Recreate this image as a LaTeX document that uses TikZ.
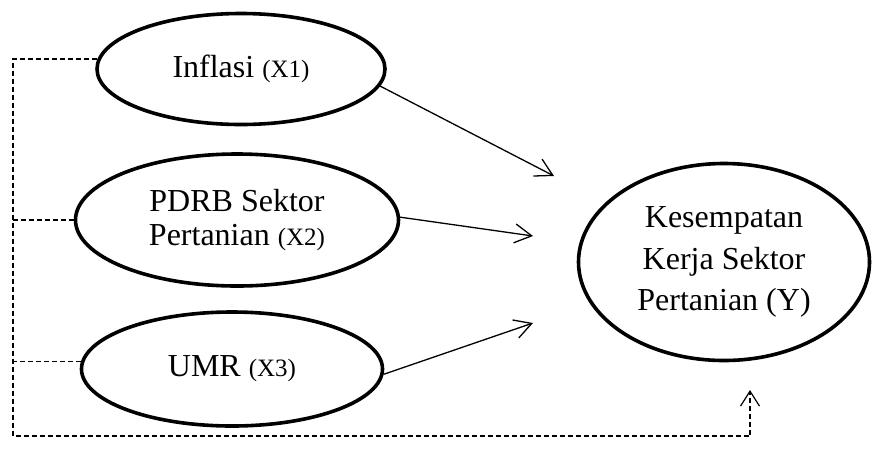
\documentclass[tikz,border=0pt]{standalone}
\usepackage{fontspec}
\setmainfont{Liberation Serif}
\usetikzlibrary{arrows.meta,positioning,shapes.geometric}
\tikzset{
  var/.style={draw,ellipse,line width=3.6pt,align=center,inner sep=0pt,
    font=\fontsize{32}{34}\selectfont},
  arr/.style={-{Straight Barb[length=17pt,width=19pt]},line width=1.3pt},
  link/.style={dash pattern=on 5pt off 3pt,line width=1.2pt}
}
\newcommand{\kode}[1]{{\fontsize{25}{30}\selectfont(#1)}}

\begin{document}
\begin{tikzpicture}[x=1pt,y=-1pt]
    \useasboundingbox (0,0) rectangle (885,448);
    \node[var,minimum width=288pt,minimum height=111pt] (infl) at (241,69) {Inflasi \kode{X1}};
    \node[var,minimum width=323pt,minimum height=132pt] (pdrb) at (237,220) {PDRB Sektor\\Pertanian \kode{X2}};
    \node[var,minimum width=301pt,minimum height=114pt] (umr) at (232,369) {UMR \kode{X3}};
    \node[var,minimum width=291pt,minimum height=197pt,
      font=\fontsize{32}{41.5}\selectfont] (kerja) at (724,262)
      {Kesempatan\\Kerja Sektor\\Pertanian (Y)};
    \coordinate (t1) at (554,176);
    \coordinate (t2) at (533,236);
    \coordinate (t3) at (533,323);
    \coordinate (lc) at (13,436);
    \coordinate (bc) at (750,436);
    \coordinate (t4) at (750,390);
    % pengaruh parsial
    \draw[arr] (infl.-7) -- (t1);
    \draw[arr] (pdrb.1) -- (t2);
    \draw[arr] (umr.-2) -- (t3);
    % pengaruh simultan
    \draw[link,-{Straight Barb[length=15pt,width=19pt]}]
      (infl.176) -- (infl.176 -| lc) -- (lc) -- (bc) -- (t4);
    \draw[link] (pdrb.west) -- (pdrb.west -| lc);
    \draw[link] (umr.177) -- (umr.177 -| lc);
\end{tikzpicture}
\end{document}
